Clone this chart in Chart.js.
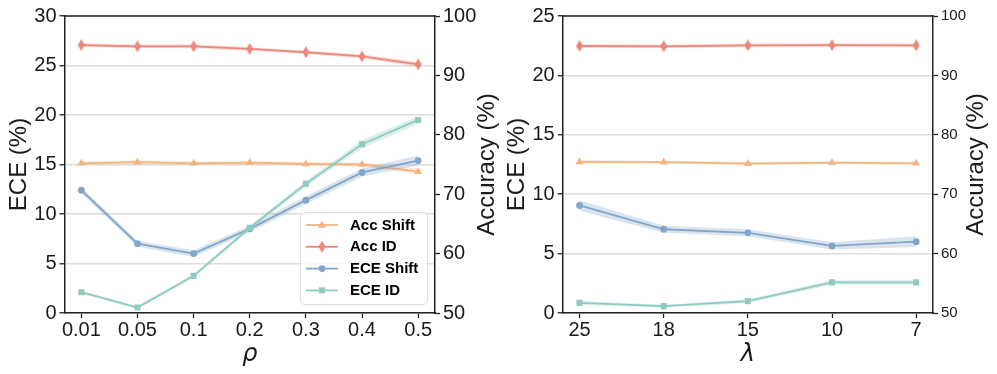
<!DOCTYPE html>
<html><head><meta charset="utf-8">
<script src="https://cdn.jsdelivr.net/npm/chart.js@4.4.1/dist/chart.umd.min.js"></script>
<style>
html,body{margin:0;padding:0;background:#fff;}
#wrap{position:relative;width:997px;height:374px;}
#c1{position:absolute;left:0;top:0;}
#c2{position:absolute;left:500px;top:0;}
</style></head>
<body><div id="wrap"><canvas id="c1" width="500" height="374"></canvas><canvas id="c2" width="497" height="374"></canvas></div>
<script>
// ---- data: left panel (rho) ----
const rhoLabels = ['0.01','0.05','0.1','0.2','0.3','0.4','0.5'];
const rhoAccShift = [75.2, 75.4, 75.2, 75.3, 75.1, 75.0, 73.8];
const rhoAccShiftStd = [0.3, 0.3, 0.3, 0.3, 0.3, 0.35, 0.5];
const rhoAccID = [95.1, 94.9, 94.9, 94.45, 93.9, 93.2, 91.85];
const rhoAccIDStd = [0.3, 0.3, 0.35, 0.3, 0.3, 0.3, 0.45];
const rhoECEShift = [12.4, 7.0, 6.0, 8.5, 11.4, 14.2, 15.4];
const rhoECEShiftStd = [0.3, 0.3, 0.35, 0.35, 0.4, 0.4, 0.5];
const rhoECEID = [2.1, 0.55, 3.75, 8.6, 13.05, 17.05, 19.5];
const rhoECEIDStd = [0.15, 0.15, 0.2, 0.25, 0.3, 0.4, 0.4];
// ---- data: right panel (lambda) ----
const lamLabels = ['25','18','15','10','7'];
const lamAccShift = [75.45, 75.4, 75.15, 75.3, 75.2];
const lamAccShiftStd = [0.25, 0.25, 0.25, 0.25, 0.25];
const lamAccID = [94.95, 94.9, 95.05, 95.1, 95.05];
const lamAccIDStd = [0.3, 0.3, 0.3, 0.3, 0.3];
const lamECEShift = [9.05, 7.05, 6.75, 5.65, 6.0];
const lamECEShiftStd = [0.45, 0.3, 0.3, 0.3, 0.45];
const lamECEID = [0.85, 0.58, 1.0, 2.58, 2.58];
const lamECEIDStd = [0.15, 0.12, 0.15, 0.2, 0.2];
const eceTicksLeft = [0, 30, 5];
const accTicks = [50, 100, 10];
const eceTicksRight = [0, 25, 5];

const COL = {
  accShift: '#F2B580',
  accID: '#EC877A',
  eceShift: '#82A7C9',
  eceID: '#90CBC0'
};
function alpha(hex, a){
  const n = parseInt(hex.slice(1),16);
  return `rgba(${(n>>16)&255},${(n>>8)&255},${n&255},${a})`;
}
function thinDiamond(color){
  const c = document.createElement('canvas');
  c.width = 8; c.height = 12;
  const g = c.getContext('2d');
  g.fillStyle = color;
  g.beginPath(); g.moveTo(4,0); g.lineTo(7.5,6); g.lineTo(4,12); g.lineTo(0.5,6); g.closePath(); g.fill();
  return c;
}
const diamondImg = thinDiamond(COL.accID);

function pts(arr){ return arr.map((v,i)=>({x:i,y:v})); }
function band(arr, std, sign){ return arr.map((v,i)=>({x:i,y:v+sign*std[i]})); }

function series(name, vals, std, color, axis, style){
  const common = {yAxisID: axis, pointRadius:0, borderWidth:0, tension:0};
  const out = [
    Object.assign({label:name+'_lo', data: band(vals,std,-1), fill:false, borderColor:'rgba(0,0,0,0)'}, common),
    Object.assign({label:name+'_hi', data: band(vals,std,1), fill:'-1', borderColor:'rgba(0,0,0,0)', backgroundColor: alpha(color,0.3)}, common),
  ];
  const main = {label:name, data: pts(vals), yAxisID: axis, borderColor: color, backgroundColor: color,
    borderWidth: 1.8, fill:false, tension:0, pointBorderWidth:0, pointHoverRadius:0};
  if (style==='diamond'){ main.pointStyle = diamondImg; main.pointRadius = 6; }
  else if (style==='triangle'){ main.pointStyle='triangle'; main.pointRadius=4.6; }
  else if (style==='circle'){ main.pointStyle='circle'; main.pointRadius=3.4; }
  else { main.pointStyle='rect'; main.pointRadius=4.3; }
  out.push(main);
  return out;
}

const FONT = '"Liberation Sans", Arial, sans-serif';

const frame = {
  id:'frame',
  afterDatasetsDraw(chart, args, o){
    const {ctx, chartArea:a} = chart;
    ctx.save(); ctx.strokeStyle='#222'; ctx.lineWidth=1.5;
    ctx.beginPath(); ctx.moveTo(a.left-0.75, a.top); ctx.lineTo(a.right+0.75, a.top); ctx.stroke();
    // right axis title, reading bottom-to-top
    ctx.fillStyle='#1a1a1a'; ctx.font='24px '+FONT;
    ctx.textAlign='center'; ctx.textBaseline='middle';
    ctx.translate(o.rightTitleX, (a.top+a.bottom)/2);
    ctx.rotate(-Math.PI/2);
    ctx.fillText('Accuracy (%)', 0, 0);
    ctx.restore();
  }
};

function drawMarker(ctx, style, x, y, color){
  ctx.fillStyle = color;
  ctx.beginPath();
  if (style==='triangle'){ ctx.moveTo(x, y-4.5); ctx.lineTo(x+4.2, y+2.8); ctx.lineTo(x-4.2, y+2.8); ctx.closePath(); }
  else if (style==='diamond'){ ctx.moveTo(x,y-6); ctx.lineTo(x+3.5,y); ctx.lineTo(x,y+6); ctx.lineTo(x-3.5,y); ctx.closePath(); }
  else if (style==='circle'){ ctx.arc(x,y,3.4,0,Math.PI*2); }
  else { ctx.rect(x-3.1,y-3.1,6.2,6.2); }
  ctx.fill();
}

const legendItems = [
  ['Acc Shift', COL.accShift, 'triangle'],
  ['Acc ID', COL.accID, 'diamond'],
  ['ECE Shift', COL.eceShift, 'circle'],
  ['ECE ID', COL.eceID, 'rect']
];
const legendPlugin = {
  id:'inlegend',
  afterDraw(chart){
    const ctx = chart.ctx;
    const x0=300.5, y0=212.5, w=127, h=92;
    ctx.save();
    ctx.fillStyle='rgba(255,255,255,0.8)';
    ctx.strokeStyle='#dddddd'; ctx.lineWidth=1;
    ctx.beginPath(); ctx.roundRect(x0,y0,w,h,4); ctx.fill(); ctx.stroke();
    legendItems.forEach((it,i)=>{
      const y = 225 + i*21.8;
      ctx.strokeStyle = it[1]; ctx.lineWidth=1.8;
      ctx.beginPath(); ctx.moveTo(306,y); ctx.lineTo(338,y); ctx.stroke();
      drawMarker(ctx, it[2], 322, y, it[1]);
      ctx.fillStyle='#000'; ctx.font='bold 15px "Liberation Sans", Arial, sans-serif';
      ctx.textBaseline='middle'; ctx.textAlign='left';
      ctx.fillText(it[0], 350, y+0.5);
    });
    ctx.restore();
  }
};

function makeChart(id, labels, d, opt){
  const datasets = [].concat(
    series('ECE ID', d.eceID, d.eceIDStd, COL.eceID, 'y', 'rect'),
    series('ECE Shift', d.eceShift, d.eceShiftStd, COL.eceShift, 'y', 'circle'),
    series('Acc ID', d.accID, d.accIDStd, COL.accID, 'y1', 'diamond'),
    series('Acc Shift', d.accShift, d.accShiftStd, COL.accShift, 'y1', 'triangle')
  );
  const n = labels.length;
  const m = (n-1)*0.05;
  return new Chart(document.getElementById(id), {
    type:'line',
    data:{datasets},
    options:{
      responsive:false, animation:false, devicePixelRatio:1,
      layout:{padding:{top:16,left:0,right:0,bottom:0}},
      plugins:{legend:{display:false}, tooltip:{enabled:false}, frame:{rightTitleX: opt.rightTitleX}},
      scales:{
        x:{type:'linear', min:-m, max:(n-1)+m,
          afterBuildTicks(s){ s.ticks = labels.map((_,i)=>({value:i})); },
          afterFit(s){ s.height = 61; },
          ticks:{callback:(v)=>labels[v], color:'#1a1a1a', font:{family:FONT,size:20}, padding:0, maxRotation:0, autoSkip:false},
          grid:{drawOnChartArea:false, drawTicks:true, tickLength:5, tickColor:'#222', tickWidth:1.3},
          border:{display:true, color:'#222', width:1.5},
          title:{display:true, text:opt.xTitle, color:'#1a1a1a', font:{family:'"DejaVu Sans", sans-serif', size:24, style:'italic', lineHeight:1.2}, padding:{top:0,bottom:5}}
        },
        y:{position:'left', min:opt.ece[0], max:opt.ece[1],
          afterBuildTicks(s){ const t=[]; for(let v=opt.ece[0]; v<=opt.ece[1]; v+=opt.ece[2]) t.push({value:v}); s.ticks=t; },
          afterFit(s){ s.width = opt.leftW; },
          ticks:{color:'#1a1a1a', font:{family:FONT,size:20}, padding:3},
          grid:{color:'#dddddd', lineWidth:1.5, drawTicks:true, tickLength:5, tickColor:'#222', tickWidth:1.3},
          border:{display:true, color:'#222', width:1.5},
          title:{display:true, text:'ECE (%)', color:'#1a1a1a', font:{family:FONT,size:24, lineHeight:1.2}, padding:{top:opt.leftTitlePad,bottom:0}}
        },
        y1:{position:'right', min:accTicks[0], max:accTicks[1],
          afterBuildTicks(s){ const t=[]; for(let v=accTicks[0]; v<=accTicks[1]; v+=accTicks[2]) t.push({value:v}); s.ticks=t; },
          afterFit(s){ s.width = opt.rightW; },
          ticks:{color:'#1a1a1a', font:{family:FONT,size:opt.rightTickSize}, padding:3},
          grid:{drawOnChartArea:false, drawTicks:true, tickLength:5, tickColor:'#222', tickWidth:1.3},
          border:{display:true, color:'#222', width:1.5},
          title:{display:false}
        }
      }
    },
    plugins: opt.legend ? [frame, legendPlugin] : [frame]
  });
}

makeChart('c1', rhoLabels, {
  accShift: rhoAccShift, accShiftStd: rhoAccShiftStd, accID: rhoAccID, accIDStd: rhoAccIDStd,
  eceShift: rhoECEShift, eceShiftStd: rhoECEShiftStd, eceID: rhoECEID, eceIDStd: rhoECEIDStd
}, {xTitle:'ρ', ece: eceTicksLeft, leftW:64.5, rightW:65, rightTickSize:20, leftTitlePad:5, rightTitleX:487.5, legend:true});

makeChart('c2', lamLabels, {
  accShift: lamAccShift, accShiftStd: lamAccShiftStd, accID: lamAccID, accIDStd: lamAccIDStd,
  eceShift: lamECEShift, eceShiftStd: lamECEShiftStd, eceID: lamECEID, eceIDStd: lamECEIDStd
}, {xTitle:'λ', ece: eceTicksRight, leftW:62.7, rightW:64, rightTickSize:15, leftTitlePad:3, rightTitleX:476.5, legend:false});
</script>
</body></html>
